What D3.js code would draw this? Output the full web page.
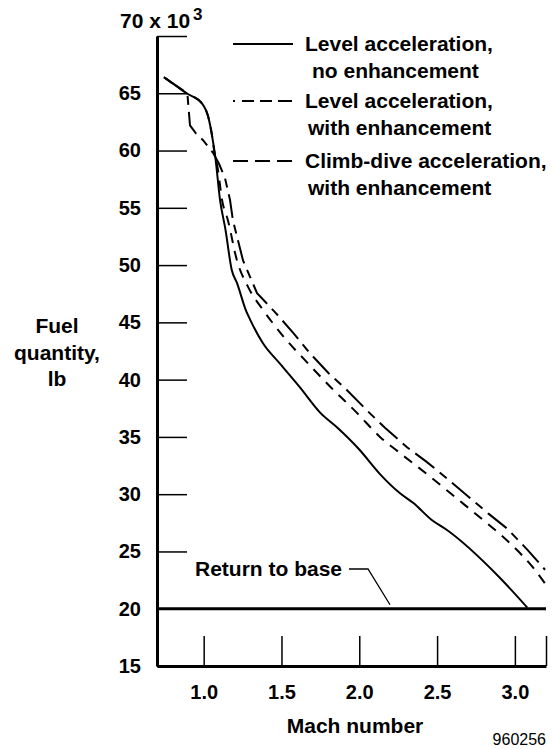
<!DOCTYPE html>
<html>
<head>
<meta charset="utf-8">
<script src="https://cdn.jsdelivr.net/npm/d3@7"></script>
<style>
  body { margin: 0; background: #fff; }
  svg { display: block; font-family: "Liberation Sans", Arial, sans-serif; font-weight: bold; }
  .axis text { font-size: 20px; font-weight: bold; font-family: "Liberation Sans", Arial, sans-serif; fill: #000; }
  .axis .domain { stroke: #000; stroke-width: 3; }
  .axis .tick line { stroke: #000; stroke-width: 1.5; }
  .lbl { font-size: 21px; fill: #000; }
</style>
</head>
<body>
<div id="chart"></div>
<script>
// data (Mach number vs fuel quantity, 10^3 lb)
const machLevel = [0.745, 0.89, 0.99, 1.03, 1.055, 1.075, 1.105, 1.14, 1.18, 1.215, 1.27, 1.3, 1.38, 1.49, 1.62, 1.75, 1.86, 2.0, 2.13, 2.26, 2.35, 2.47, 2.55, 2.9, 3.08];
const fuelLevel = [66.4, 65.0, 64.1, 62.9, 61.2, 59.4, 55.7, 53.1, 49.6, 48.4, 46.1, 45.2, 43.2, 41.4, 39.3, 37.1, 35.8, 33.9, 31.8, 30.1, 29.2, 27.7, 27.0, 22.75, 20.1];

const machLevelEnh = [0.745, 0.89, 0.99, 1.03, 1.055, 1.065, 1.092, 1.118, 1.156, 1.214, 1.285, 1.381, 1.523, 1.651, 1.812, 1.985, 2.133, 2.242, 2.435, 2.62, 2.8, 2.97, 3.116, 3.194];
const fuelLevelEnh = [66.4, 65.0, 64.1, 62.9, 61.2, 60.2, 58.3, 55.7, 53.9, 50.4, 48.1, 46.1, 43.6, 41.7, 39.4, 37.1, 35.0, 33.8, 31.75, 29.7, 27.7, 25.7, 23.6, 22.2];

const machClimb = [0.745, 0.895, 0.912, 0.95, 0.996, 1.06, 1.1, 1.137, 1.169, 1.188, 1.253, 1.343, 1.458, 1.574, 1.683, 1.8, 1.92, 2.05, 2.165, 2.307, 2.435, 2.57, 2.7, 2.83, 2.95, 3.084, 3.194];
const fuelClimb = [66.4, 65.0, 62.2, 61.5, 60.9, 59.8, 58.8, 57.6, 55.7, 53.9, 50.4, 47.55, 45.9, 44.1, 42.3, 40.6, 39.1, 37.3, 35.8, 34.1, 32.8, 31.3, 29.8, 28.3, 27.0, 25.1, 23.4];

const returnFuel = 20;
const xTicks = [1.0, 1.5, 2.0, 2.5, 3.0, 3.2];
const yTicks = [15, 20, 25, 30, 35, 40, 45, 50, 55, 60, 65, 70];

const legendItems = [
  ["Level acceleration,", "no enhancement"],
  ["Level acceleration,", "with enhancement"],
  ["Climb-dive acceleration,", "with enhancement"]
];

////////////////////////////  Init  ///////////////////////////////
const width = 552;
const height = 749;

const svg = d3.select("#chart").append("svg")
  .attr("width", width)
  .attr("height", height);

const x = d3.scaleLinear().domain([0.7, 3.2]).range([157, 546]);
const y = d3.scaleLinear().domain([15, 70]).range([666, 36]);

// axes
const yAxis = d3.axisLeft(y)
  .tickValues(yTicks)
  .tickSize(-30)
  .tickSizeOuter(0)
  .tickPadding(16)
  .tickFormat((d) => (d === 70 ? "" : d));

svg.append("g")
  .attr("class", "axis y-axis")
  .attr("transform", `translate(${x(0.7)},0)`)
  .call(yAxis);

const xAxis = d3.axisBottom(x)
  .tickValues(xTicks)
  .tickSize(-30)
  .tickSizeOuter(0)
  .tickPadding(19)
  .tickFormat((d) => (d === 3.2 ? "" : d3.format(".1f")(d)));

svg.append("g")
  .attr("class", "axis x-axis")
  .attr("transform", `translate(0,${y(15)})`)
  .call(xAxis);

// top label 70 x 10^3
const topLbl = svg.append("text")
  .attr("class", "lbl")
  .attr("x", 120)
  .attr("y", 28)
  .style("font-size", "21px");
topLbl.append("tspan").text("70 x 10");
topLbl.append("tspan").attr("dy", -8).attr("dx", 3).style("font-size", "17px").text("3");

// y title
svg.append("text")
  .attr("class", "lbl")
  .attr("text-anchor", "middle")
  .selectAll("tspan")
  .data(["Fuel", "quantity,", "lb"])
  .enter()
  .append("tspan")
  .attr("x", 57)
  .attr("y", (d, i) => [333, 360, 386][i])
  .text((d) => d);

// x title
svg.append("text")
  .attr("class", "lbl")
  .attr("x", 355)
  .attr("y", 733)
  .attr("text-anchor", "middle")
  .text("Mach number");

svg.append("text")
  .attr("x", 546)
  .attr("y", 745)
  .attr("text-anchor", "end")
  .style("font-size", "16px")
  .style("font-weight", "normal")
  .text("960256");

// return to base
svg.append("line")
  .attr("x1", x(0.7))
  .attr("x2", x(3.2))
  .attr("y1", y(returnFuel))
  .attr("y2", y(returnFuel))
  .attr("stroke", "#000")
  .attr("stroke-width", 3);

svg.append("text")
  .attr("class", "lbl")
  .attr("x", 195)
  .attr("y", 576)
  .text("Return to base");

svg.append("path")
  .attr("d", `M349,569 L368,569 L390,${y(returnFuel) - 4}`)
  .attr("fill", "none")
  .attr("stroke", "#000")
  .attr("stroke-width", 1.3);

// curves
const toPts = (ms, fs) => ms.map((m, i) => [m, fs[i]]);

const smooth = d3.line()
  .x((d) => x(d[0]))
  .y((d) => y(d[1]))
  .curve(d3.curveMonotoneX);

const straight = d3.line()
  .x((d) => x(d[0]))
  .y((d) => y(d[1]));

svg.append("path")
  .attr("d", smooth(toPts(machLevel, fuelLevel)))
  .attr("fill", "none")
  .attr("stroke", "#000")
  .attr("stroke-width", 2);

svg.append("path")
  .attr("d", smooth(toPts(machLevelEnh, fuelLevelEnh)))
  .attr("fill", "none")
  .attr("stroke", "#000")
  .attr("stroke-width", 2)
  .attr("stroke-dasharray", "10,8");

svg.append("path")
  .attr("d", straight(toPts(machClimb, fuelClimb)))
  .attr("fill", "none")
  .attr("stroke", "#000")
  .attr("stroke-width", 2)
  .attr("stroke-dasharray", "24,7,9,7");

// legend
const legendY = [44, 101, 161];
const legendDash = [null, "2,7,12,6,12,6,14,20", "15,7"];

const leg = svg.append("g").attr("class", "legend");

legendItems.forEach((item, i) => {
  leg.append("line")
    .attr("x1", 233)
    .attr("x2", 293)
    .attr("y1", legendY[i])
    .attr("y2", legendY[i])
    .attr("stroke", "#000")
    .attr("stroke-width", 2)
    .attr("stroke-dasharray", legendDash[i]);

  leg.append("text")
    .attr("class", "lbl")
    .attr("x", 305)
    .attr("y", legendY[i] + 7)
    .text(item[0]);

  leg.append("text")
    .attr("class", "lbl")
    .attr("x", i === 0 ? 312 : 308)
    .attr("y", legendY[i] + 34)
    .text(item[1]);
});
</script>
</body>
</html>
